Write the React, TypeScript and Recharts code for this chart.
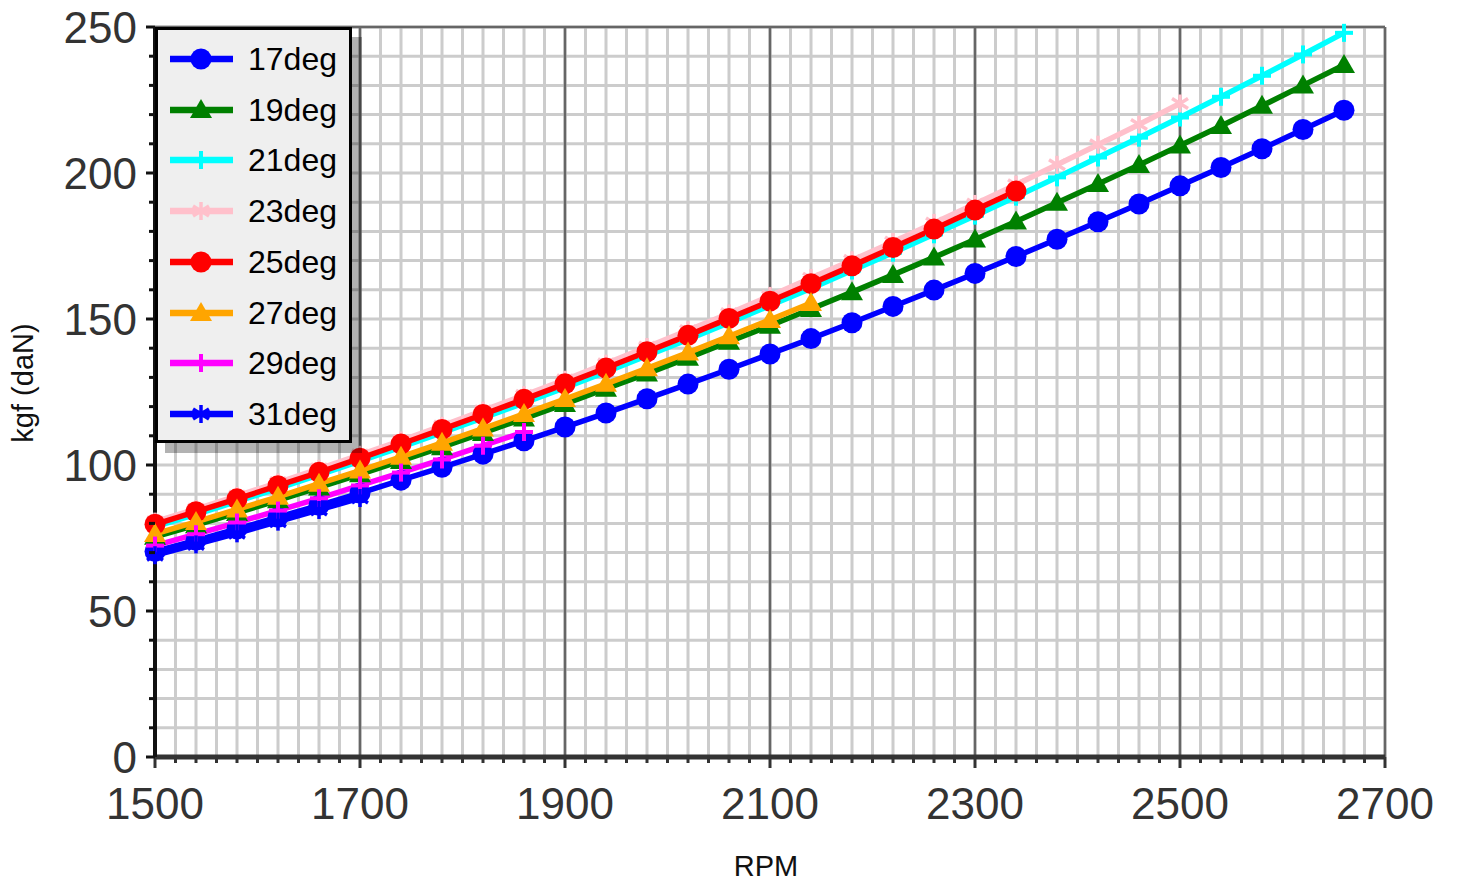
import React from 'react';
import { LineChart, Line, XAxis, YAxis, CartesianGrid, Legend } from 'recharts';

const rpm = [1500, 1540, 1580, 1620, 1660, 1700, 1740, 1780, 1820, 1860, 1900, 1940, 1980, 2020, 2060, 2100, 2140, 2180, 2220, 2260, 2300, 2340, 2380, 2420, 2460, 2500, 2540, 2580, 2620, 2660];

const deg17 = [70.4, 74.2, 78.1, 82.1, 86.2, 90.4, 94.8, 99.2, 103.7, 108.3, 113.0, 117.8, 122.7, 127.7, 132.8, 138.0, 143.3, 148.7, 154.3, 159.9, 165.6, 171.4, 177.3, 183.3, 189.4, 195.6, 201.9, 208.3, 214.9, 221.5];
const deg19 = [75.4, 79.4, 83.6, 87.9, 92.3, 96.8, 101.4, 106.1, 111.0, 115.9, 120.9, 126.1, 131.3, 136.7, 142.2, 147.7, 153.4, 159.2, 165.1, 171.1, 177.2, 183.4, 189.8, 196.2, 202.7, 209.4, 216.1, 223.0, 230.0, 237.0];
const deg21 = [78.9, 83.1, 87.5, 92.0, 96.6, 101.3, 106.1, 111.1, 116.1, 121.3, 126.5, 131.9, 137.4, 143.0, 148.7, 154.6, 160.5, 166.6, 172.7, 179.0, 185.4, 191.9, 198.5, 205.3, 212.1, 219.0, 226.1, 233.3, 240.6, 248.0];
const deg23 = [80.6, 84.9, 89.4, 94.0, 98.7, 103.5, 108.4, 113.4, 118.6, 123.9, 129.2, 134.7, 140.4, 146.1, 151.9, 157.9, 164.0, 170.1, 176.4, 182.9, 189.4, 196.0, 202.8, 209.7, 216.6, 223.8];
const deg25 = [79.7, 84.0, 88.4, 92.9, 97.5, 102.3, 107.2, 112.2, 117.3, 122.5, 127.8, 133.2, 138.8, 144.4, 150.2, 156.1, 162.1, 168.2, 174.5, 180.8, 187.3, 193.8];
const deg27 = [76.4, 80.5, 84.8, 89.1, 93.6, 98.1, 102.8, 107.6, 112.5, 117.5, 122.6, 127.8, 133.1, 138.5, 144.1, 149.7, 155.5];
const deg29 = [72.4, 76.3, 80.3, 84.4, 88.6, 93.0, 97.4, 101.9, 106.6, 111.3];
const deg31 = [69.1, 72.8, 76.6, 80.6, 84.6, 88.7];

const xMajor = [1500, 1700, 1900, 2100, 2300, 2500, 2700];
const yMajor = [0, 50, 100, 150, 200, 250];
const xMinor = Array.from({ length: 61 }, (_, i) => 1500 + i * 20);
const yMinor = Array.from({ length: 26 }, (_, i) => i * 10);

type MarkerKind = 'circle' | 'triangle' | 'plus' | 'star';

const series: { name: string; color: string; marker: MarkerKind; values: number[] }[] = [
  { name: '17deg', color: '#0000ff', marker: 'circle', values: deg17 },
  { name: '19deg', color: '#008000', marker: 'triangle', values: deg19 },
  { name: '21deg', color: '#00ffff', marker: 'plus', values: deg21 },
  { name: '23deg', color: '#ffc0cb', marker: 'star', values: deg23 },
  { name: '25deg', color: '#ff0000', marker: 'circle', values: deg25 },
  { name: '27deg', color: '#ffa500', marker: 'triangle', values: deg27 },
  { name: '29deg', color: '#ff00ff', marker: 'plus', values: deg29 },
  { name: '31deg', color: '#0000ff', marker: 'star', values: deg31 },
];

const data = rpm.map((r, i) => {
  const row: Record<string, number> = { rpm: r };
  series.forEach(s => {
    if (i < s.values.length) row[s.name] = s.values[i];
  });
  return row;
});

const FONT = '"Liberation Sans", Arial, sans-serif';

function Marker({ kind, cx, cy, color }: { kind: MarkerKind; cx: number; cy: number; color: string }) {
  if (kind === 'circle') return <circle cx={cx} cy={cy} r={10.5} fill={color} />;
  if (kind === 'triangle')
    return <polygon points={`${cx},${cy - 11} ${cx + 11},${cy + 8} ${cx - 11},${cy + 8}`} fill={color} />;
  if (kind === 'plus')
    return (
      <g stroke={color} strokeWidth={4}>
        <line x1={cx - 9} y1={cy} x2={cx + 9} y2={cy} />
        <line x1={cx} y1={cy - 9} x2={cx} y2={cy + 9} />
      </g>
    );
  return (
    <g stroke={color} strokeWidth={3.5}>
      <line x1={cx} y1={cy - 9} x2={cx} y2={cy + 9} />
      <line x1={cx - 8} y1={cy - 5} x2={cx + 8} y2={cy + 5} />
      <line x1={cx - 8} y1={cy + 5} x2={cx + 8} y2={cy - 5} />
    </g>
  );
}

const XTick = (props: any) => {
  const { x, y, payload } = props;
  const major = xMajor.includes(payload.value);
  return (
    <g>
      <line x1={x} y1={y} x2={x} y2={y + (major ? 11 : 6)} stroke="#333" strokeWidth={3} />
      {major && (
        <text x={x} y={y + 62} textAnchor="middle" fill="#333" fontSize={44} fontFamily={FONT}>
          {payload.value}
        </text>
      )}
    </g>
  );
};

const YTick = (props: any) => {
  const { x, y, payload } = props;
  const major = yMajor.includes(payload.value);
  return (
    <g>
      <line x1={x - (major ? 9 : 6)} y1={y} x2={x} y2={y} stroke="#111" strokeWidth={3} />
      {major && (
        <text x={x - 18} y={y} dy="0.36em" textAnchor="end" fill="#333" fontSize={44} fontFamily={FONT}>
          {payload.value}
        </text>
      )}
    </g>
  );
};

const LegendBox = () => (
  <div
    style={{
      width: 191,
      height: 410,
      background: '#efefef',
      border: '3px solid #000',
      boxShadow: '10px 10px 0 rgba(0,0,0,0.3)',
      fontFamily: FONT,
      position: 'relative',
    }}
  >
    {series.map((s, i) => (
      <div key={s.name} style={{ position: 'absolute', left: 0, top: 4 + i * 50.7, height: 50, display: 'flex', alignItems: 'center' }}>
        <svg width={90} height={50} style={{ display: 'block' }}>
          <line x1={12} y1={25} x2={75} y2={25} stroke={s.color} strokeWidth={6.5} />
          <Marker kind={s.marker} cx={43} cy={25} color={s.color} />
        </svg>
        <span style={{ fontSize: 32, color: '#000', lineHeight: '50px' }}>{s.name}</span>
      </div>
    ))}
  </div>
);

export default function App() {
  return (
    <div style={{ width: 1449, height: 886, marginTop: -8, fontFamily: FONT }}>
      <LineChart
        width={1449}
        height={886}
        data={data}
        margin={{ top: 27, right: 72, bottom: 4, left: 0 }}
        style={{ overflow: 'visible' }}
      >
        <XAxis
          xAxisId="x"
          dataKey="rpm"
          type="number"
          domain={[1500, 2700]}
          ticks={xMinor}
          interval={0}
          height={125}
          tickSize={0}
          tickMargin={0}
          tickLine={false}
          tick={<XTick />}
          axisLine={{ stroke: '#333', strokeWidth: 5 }}
          label={{
            content: () => (
              <text x={758} y={876} textAnchor="middle" fontSize={29} fill="#111" fontFamily={FONT}>
                RPM
              </text>
            ),
          }}
        />
        <XAxis xAxisId="xm" dataKey="rpm" type="number" domain={[1500, 2700]} ticks={xMajor} hide />
        <YAxis
          yAxisId="y"
          type="number"
          domain={[0, 250]}
          ticks={yMinor}
          interval={0}
          width={147}
          tickSize={0}
          tickMargin={0}
          tickLine={false}
          tick={<YTick />}
          axisLine={{ stroke: '#111', strokeWidth: 4 }}
          label={{
            content: () => (
              <text x={25} y={383} transform="rotate(-90 25 383)" textAnchor="middle" fontSize={29} fill="#111" fontFamily={FONT}>
                kgf (daN)
              </text>
            ),
          }}
        />
        <YAxis yAxisId="ym" type="number" domain={[0, 250]} ticks={yMajor} hide />
        <CartesianGrid xAxisId="x" yAxisId="y" stroke="#cccccc" strokeWidth={3} />
        <CartesianGrid xAxisId="xm" yAxisId="ym" stroke="#666666" strokeWidth={2.5} />
        {series.map(s => (
          <Line
            key={s.name}
            xAxisId="x"
            yAxisId="y"
            dataKey={s.name}
            stroke={s.color}
            strokeWidth={5.5}
            isAnimationActive={false}
            dot={(p: any) =>
              p.cy == null || p.value == null ? (
                <g key={`${s.name}-${p.index}`} />
              ) : (
                <Marker key={`${s.name}-${p.index}`} kind={s.marker} cx={p.cx} cy={p.cy} color={s.color} />
              )
            }
            activeDot={false}
          />
        ))}
        <Legend
          layout="vertical"
          align="center"
          verticalAlign="middle"
          content={() => <LegendBox />}
          wrapperStyle={{ left: 147, top: 27, width: 197, height: 416 }}
        />
      </LineChart>
    </div>
  );
}
